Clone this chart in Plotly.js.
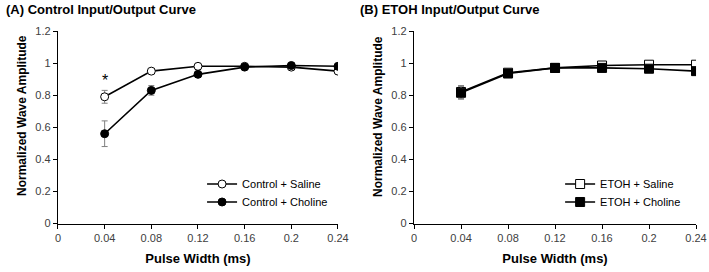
<!DOCTYPE html>
<html>
<head>
<meta charset="utf-8">
<script src="https://cdn.plot.ly/plotly-3.0.1.min.js"></script>
<style>html,body{margin:0;padding:0;background:#fff}#chart{width:709px;height:272px}</style>
</head>
<body>
<div id="chart"></div>
<script>
const pulseWidth = [0.04, 0.08, 0.12, 0.16, 0.2, 0.24];
const controlSaline = [0.79, 0.95, 0.98, 0.98, 0.975, 0.95];
const controlSalineErr = [0.04, 0.01, 0.01, 0.01, 0.01, 0.01];
const controlCholine = [0.56, 0.83, 0.93, 0.975, 0.985, 0.98];
const controlCholineErr = [0.08, 0.03, 0.01, 0.01, 0.01, 0.01];
const etohSaline = [0.82, 0.94, 0.97, 0.985, 0.99, 0.99];
const etohSalineErr = [0.04, 0.01, 0.01, 0.01, 0.01, 0.01];
const etohCholine = [0.815, 0.935, 0.97, 0.97, 0.965, 0.95];
const etohCholineErr = [0.04, 0.01, 0.01, 0.01, 0.01, 0.015];
const xTicks = [0, 0.04, 0.08, 0.12, 0.16, 0.2, 0.24];
const xTickText = ['0', '0.04', '0.08', '0.12', '0.16', '0.2', '0.24'];
const yTicks = [0, 0.2, 0.4, 0.6, 0.8, 1, 1.2];
const yTickText = ['0', '0.2', '0.4', '0.6', '0.8', '1', '1.2'];

const FONT = 'Liberation Sans, Arial, sans-serif';
function tr(x, y, err, name, symbol, fill, xa, ya, legend) {
  return {
    x: x, y: y, name: name, type: 'scatter', mode: 'lines+markers',
    xaxis: xa, yaxis: ya, legend: legend,
    line: {color: '#000', width: 1.6},
    marker: {symbol: symbol, size: symbol.indexOf('square') === 0 ? 9 : 8, color: fill, line: {color: '#000', width: 1}},
    error_y: {type: 'data', array: err, visible: true, color: '#7f7f7f', thickness: 1, width: 3}
  };
}
const data = [
  tr(pulseWidth, controlSaline, controlSalineErr, 'Control + Saline', 'circle', '#fff', 'x', 'y', 'legend'),
  tr(pulseWidth, controlCholine, controlCholineErr, 'Control + Choline', 'circle', '#000', 'x', 'y', 'legend2'),
  tr(pulseWidth, etohSaline, etohSalineErr, 'ETOH + Saline', 'square', '#fff', 'x2', 'y2', 'legend3'),
  tr(pulseWidth, etohCholine, etohCholineErr, 'ETOH + Choline', 'square', '#000', 'x2', 'y2', 'legend4')
];
function xax(domain, anchor) {
  return {
    domain: domain, anchor: anchor, range: [0, 0.24], tickvals: xTicks, ticktext: xTickText,
    showgrid: false, zeroline: false, showline: true, linecolor: '#000', linewidth: 1.2,
    ticks: 'outside', ticklen: 4, tickcolor: '#000', tickfont: {family: FONT, size: 11, color: '#404040'},
    title: {text: '<b>Pulse Width (ms)</b>', font: {family: FONT, size: 13, color: '#000'}, standoff: 11}
  };
}
function yax(domain, anchor) {
  return {
    domain: domain, anchor: anchor, range: [0, 1.2], tickvals: yTicks, ticktext: yTickText,
    showgrid: false, zeroline: false, showline: true, linecolor: '#000', linewidth: 1.2,
    ticks: 'outside', ticklen: 4, tickcolor: '#000', tickfont: {family: FONT, size: 11, color: '#404040'}
  };
}
function leg(x, y) {
  return {x: x, y: y, xanchor: 'left', yanchor: 'middle', bgcolor: 'rgba(0,0,0,0)', font: {family: FONT, size: 11, color: '#000'}, itemwidth: 30};
}
const yd = [0.178, 0.886];
const layout = {
  width: 709, height: 272, margin: {l: 0, r: 0, t: 0, b: 0},
  paper_bgcolor: '#fff', plot_bgcolor: '#fff',
  font: {family: FONT, color: '#000'},
  xaxis: xax([0.0818, 0.4767], 'y'),
  yaxis: yax(yd, 'x'),
  xaxis2: xax([0.584, 0.9817], 'y2'),
  yaxis2: yax(yd, 'x2'),
  showlegend: true,
  legend: leg(0.285, 0.3235),
  legend2: leg(0.285, 0.2574),
  legend3: leg(0.79, 0.3235),
  legend4: leg(0.79, 0.2574),
  annotations: [
    {text: '<b>(A) Control Input/Output Curve</b>', xref: 'paper', yref: 'paper', x: 0.006, y: 1, xanchor: 'left', yanchor: 'top', showarrow: false, font: {family: FONT, size: 13, color: '#000'}},
    {text: '<b>(B) ETOH Input/Output Curve</b>', xref: 'paper', yref: 'paper', x: 0.505, y: 1, xanchor: 'left', yanchor: 'top', showarrow: false, font: {family: FONT, size: 13, color: '#000'}},
    {text: '<b>Normalized Wave Amplitude</b>', xref: 'paper', yref: 'paper', x: 22 / 709, y: 0.5735, xanchor: 'center', yanchor: 'middle', textangle: -90, showarrow: false, font: {family: FONT, size: 12, color: '#000'}},
    {text: '<b>Normalized Wave Amplitude</b>', xref: 'paper', yref: 'paper', x: 378 / 709, y: 0.5735, xanchor: 'center', yanchor: 'middle', textangle: -90, showarrow: false, font: {family: FONT, size: 12, color: '#000'}},
    {text: '*', xref: 'x', yref: 'y', x: 0.04, y: 0.89, showarrow: false, font: {family: FONT, size: 16, color: '#000'}}
  ]
};
Plotly.newPlot('chart', data, layout, {staticPlot: true, displayModeBar: false});
</script>
</body>
</html>
